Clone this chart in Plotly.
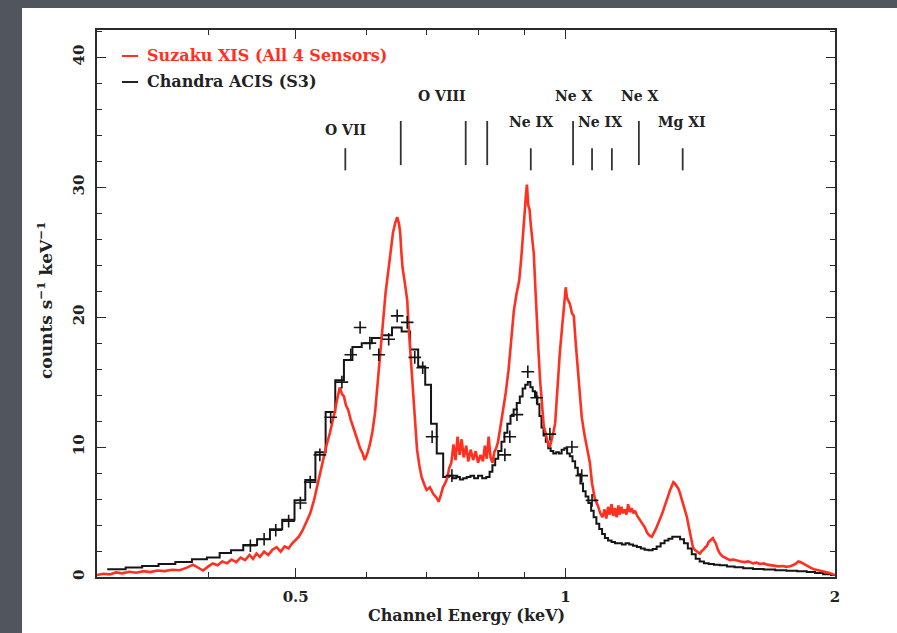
import math
import plotly.graph_objects as go

# Suzaku XIS (all four sensors) spectrum: channel energy (keV) and rate (counts s^-1 keV^-1)
suzaku_energy = [
    0.300, 0.305, 0.310, 0.315, 0.320, 0.326, 0.332, 0.338, 0.344, 0.350,
    0.357, 0.364, 0.371, 0.378, 0.384, 0.389, 0.394, 0.399, 0.404, 0.409,
    0.414, 0.419, 0.424, 0.429, 0.434, 0.439, 0.444, 0.448, 0.452, 0.456,
    0.461, 0.466, 0.471, 0.476, 0.481, 0.486, 0.491, 0.495, 0.499, 0.504,
    0.509, 0.514, 0.519, 0.524, 0.528, 0.532, 0.536, 0.541, 0.546, 0.550,
    0.553, 0.557, 0.560, 0.563, 0.566, 0.569, 0.572, 0.576, 0.580, 0.585,
    0.590, 0.594, 0.597, 0.601, 0.605, 0.609, 0.613, 0.616, 0.619, 0.623,
    0.626, 0.630, 0.635, 0.638, 0.642, 0.646, 0.649, 0.652, 0.654, 0.656,
    0.658, 0.662, 0.666, 0.668, 0.671, 0.674, 0.676, 0.680, 0.683, 0.687,
    0.691, 0.696, 0.700, 0.706, 0.712, 0.718, 0.722, 0.726, 0.730, 0.734,
    0.738, 0.742, 0.746, 0.750, 0.754, 0.758, 0.762, 0.766, 0.770, 0.775,
    0.779, 0.784, 0.789, 0.794, 0.799, 0.804, 0.809, 0.813, 0.817, 0.821,
    0.825, 0.829, 0.833, 0.837, 0.841, 0.846, 0.852, 0.858, 0.864, 0.870,
    0.876, 0.882, 0.888, 0.893, 0.897, 0.901, 0.904, 0.906, 0.909, 0.912,
    0.915, 0.918, 0.922, 0.926, 0.929, 0.933, 0.937, 0.942, 0.946, 0.951,
    0.956, 0.961, 0.966, 0.970, 0.974, 0.978, 0.981, 0.986, 0.991, 0.995,
    0.998, 1.001, 1.004, 1.008, 1.012, 1.017, 1.022, 1.027, 1.033, 1.038,
    1.043, 1.050, 1.057, 1.065, 1.071, 1.079, 1.087, 1.094, 1.100, 1.106,
    1.111, 1.116, 1.121, 1.126, 1.131, 1.136, 1.141, 1.146, 1.150, 1.155,
    1.160, 1.165, 1.170, 1.175, 1.180, 1.186, 1.191, 1.196, 1.203, 1.211,
    1.219, 1.227, 1.234, 1.241, 1.249, 1.256, 1.262, 1.269, 1.275, 1.283,
    1.290, 1.296, 1.302, 1.309, 1.315, 1.320, 1.325, 1.332, 1.337, 1.342,
    1.349, 1.355, 1.361, 1.367, 1.373, 1.378, 1.383, 1.388, 1.394, 1.400,
    1.406, 1.413, 1.420, 1.426, 1.433, 1.439, 1.445, 1.450, 1.455, 1.461,
    1.466, 1.472, 1.480, 1.488, 1.497, 1.505, 1.515, 1.526, 1.540, 1.555,
    1.570, 1.586, 1.600, 1.620, 1.635, 1.649, 1.665, 1.680, 1.695, 1.713,
    1.730, 1.750, 1.765, 1.781, 1.795, 1.810, 1.820, 1.830, 1.845, 1.855,
    1.865, 1.880, 1.895, 1.910, 1.923, 1.940, 1.955, 1.973, 1.987, 2.000,
]
suzaku_rate = [
    0.15, 0.25, 0.20, 0.35, 0.28, 0.40, 0.33, 0.45, 0.38, 0.50,
    0.45, 0.56, 0.52, 0.72, 0.95, 0.75, 0.50, 0.80, 1.05, 0.90,
    1.20, 1.05, 1.35, 1.15, 1.50, 1.30, 1.70, 1.40, 1.80, 1.55,
    1.95, 1.70, 2.10, 2.30, 1.95, 2.35, 2.20, 2.55, 2.80, 3.10,
    3.60, 4.20, 4.90, 5.90, 6.90, 7.90, 9.00, 10.1, 11.1, 12.0,
    12.8, 13.9, 14.6, 14.1, 13.9, 13.2, 12.9, 12.1, 11.4, 10.7,
    9.9, 9.5, 9.0, 9.5, 10.2, 11.2, 12.6, 14.3, 16.2, 18.2,
    20.0, 21.9, 23.8, 25.2, 26.5, 27.3, 27.7, 27.2, 26.5, 25.0,
    23.8, 22.6, 21.3, 19.5, 17.5, 15.5, 13.6, 11.5, 9.8, 8.6,
    7.7, 7.1, 6.7, 6.9, 6.4, 6.1, 5.8, 6.3, 6.9, 7.2,
    7.6, 8.4, 8.8, 10.2, 9.0, 10.8, 9.4, 10.6, 9.2, 10.1,
    8.9, 9.8, 9.0, 9.7, 8.8, 9.4, 8.9, 10.1, 9.1, 10.8,
    9.2, 8.8, 9.6, 9.9, 10.4, 11.5, 12.8, 14.2, 15.9, 18.0,
    20.5, 21.8, 22.8, 24.6, 26.8, 28.2, 29.6, 30.2, 28.6, 28.3,
    27.1, 26.2, 24.9, 22.1, 19.8, 17.5, 15.2, 13.0, 11.6, 11.0,
    10.3, 10.0, 10.6, 11.2, 11.8, 13.6, 15.4, 17.3, 19.0, 20.6,
    21.5, 22.3, 21.5, 21.2, 21.0, 20.3, 20.1, 18.0, 15.9, 14.0,
    12.3, 11.0, 10.0, 8.8, 7.2, 6.0, 5.5, 4.9, 4.6, 5.2,
    4.5, 5.4, 4.8, 5.6, 4.7, 5.3, 4.6, 5.5, 4.8, 5.4,
    4.9, 5.2, 4.8, 5.6, 5.0, 5.3, 4.9, 5.1, 4.7, 4.4,
    4.0, 3.8, 3.4, 3.2, 3.1, 3.4, 3.7, 4.1, 4.4, 4.9,
    5.4, 5.9, 6.2, 6.7, 7.0, 7.3, 7.2, 7.0, 6.8, 6.5,
    6.0, 5.6, 5.0, 4.6, 3.9, 3.3, 2.7, 2.3, 2.1, 2.0,
    1.9, 1.8, 2.0, 2.1, 2.3, 2.4, 2.7, 2.8, 2.9, 3.0,
    2.8, 2.6, 2.1, 1.8, 1.6, 1.5, 1.4, 1.3, 1.35, 1.25,
    1.2, 1.15, 1.2, 1.05, 1.1, 1.0, 1.05, 0.95, 0.9, 0.88,
    0.82, 0.85, 0.78, 0.82, 0.9, 1.05, 1.2, 1.15, 1.0, 0.9,
    0.8, 0.7, 0.6, 0.55, 0.5, 0.42, 0.38, 0.3, 0.22, 0.15,
]

# Chandra ACIS-S3 model, binned (bin centres in keV)
chandra_energy = [
    0.308, 0.316, 0.330, 0.344, 0.359, 0.375, 0.391, 0.405, 0.4175, 0.4294,
    0.4446, 0.461, 0.475, 0.491, 0.506, 0.519, 0.533, 0.547, 0.560, 0.572,
    0.585, 0.600, 0.616, 0.632, 0.649, 0.664, 0.678, 0.692, 0.703, 0.713,
    0.724, 0.737, 0.745, 0.752, 0.759, 0.766, 0.772, 0.780, 0.787, 0.795,
    0.803, 0.812, 0.820, 0.826, 0.832, 0.838, 0.845, 0.852, 0.858, 0.865,
    0.872, 0.879, 0.886, 0.893, 0.899, 0.905, 0.911, 0.917, 0.922, 0.928,
    0.933, 0.938, 0.943, 0.948, 0.954, 0.960, 0.966, 0.973, 0.980, 0.987,
    0.994, 1.001, 1.008, 1.015, 1.022, 1.029, 1.036, 1.043, 1.050, 1.057,
    1.065, 1.072, 1.079, 1.087, 1.095, 1.103, 1.111, 1.121, 1.131, 1.141,
    1.151, 1.162, 1.173, 1.184, 1.196, 1.208, 1.220, 1.232, 1.245, 1.258,
    1.271, 1.284, 1.297, 1.310, 1.323, 1.336, 1.350, 1.363, 1.377, 1.391,
    1.405, 1.420, 1.436, 1.455, 1.475, 1.500, 1.530, 1.560, 1.600, 1.640,
    1.690, 1.740, 1.790, 1.840, 1.880, 1.920, 1.960, 2.000,
]
chandra_rate = [
    0.59, 0.59, 0.74, 0.85, 1.0, 1.15, 1.36, 1.5, 1.85, 2.05,
    2.46, 2.9, 3.67, 4.4, 5.9, 7.46, 9.6, 12.7, 15.15, 16.7,
    17.7, 18.0, 18.4, 18.6, 19.2, 18.9, 17.5, 16.2, 14.8, 11.8,
    9.5, 7.7, 7.8, 7.6, 7.7, 7.5, 7.6, 7.7, 7.8, 7.6,
    7.8, 7.6, 7.7, 8.1, 8.6, 9.1, 9.7, 10.4, 11.1, 11.8,
    12.4, 12.9, 13.4, 13.9, 14.5, 14.8, 15.0, 14.6, 14.3, 13.9,
    13.3, 12.4, 11.5, 10.9, 10.4, 9.9, 9.7, 9.5, 9.6, 9.5,
    9.8, 9.9, 9.5, 9.3, 8.9, 8.4, 7.9, 7.2, 6.6, 6.2,
    5.7, 5.1, 4.6, 4.1, 3.7, 3.3, 3.0, 2.8, 2.7, 2.6,
    2.6, 2.5, 2.6, 2.5, 2.4, 2.3, 2.2, 2.1, 2.05, 2.15,
    2.35, 2.6, 2.8, 2.95, 3.1, 3.1, 2.9, 2.6, 2.2, 1.75,
    1.4, 1.2, 1.05, 1.0, 0.95, 0.9, 0.8, 0.75, 0.68, 0.62,
    0.57, 0.52, 0.48, 0.44, 0.38, 0.30, 0.22, 0.15,
]

# Chandra data points
chandra_pts_energy = [
    0.445, 0.461, 0.475, 0.491, 0.506, 0.519, 0.532, 0.547, 0.563, 0.576,
    0.590, 0.605, 0.619, 0.635, 0.649, 0.666, 0.679, 0.693, 0.710, 0.747,
    0.856, 0.867, 0.883, 0.908, 0.929, 0.961, 1.017, 1.043, 1.071,
]
chandra_pts_rate = [
    2.4, 2.9, 3.6, 4.3, 5.7, 7.3, 9.4, 12.3, 15.0, 17.1,
    19.2, 18.0, 17.1, 18.3, 20.1, 19.6, 16.9, 16.1, 10.8, 7.8,
    9.4, 10.8, 12.5, 15.8, 13.8, 11.0, 10.0, 7.8, 5.9,
]

# Emission-line markers: energy (keV), bottom and top of each marker
line_energy = [0.568, 0.655, 0.774, 0.818, 0.915, 1.020, 1.071, 1.127, 1.208, 1.352]
line_bottom = [31.3, 31.7, 31.7, 31.7, 31.3, 31.7, 31.3, 31.3, 31.7, 31.3]
line_top = [33.0, 35.1, 35.1, 35.1, 33.0, 35.1, 33.0, 33.0, 35.1, 33.0]

# Ion labels
ion_labels = ["O VII", "O VIII", "Ne IX", "Ne X", "Ne IX", "Ne X", "Mg XI"]
ion_label_energy = [0.568, 0.728, 0.915, 1.022, 1.093, 1.211, 1.349]
ion_label_rate = [34.4, 37.0, 35.0, 37.0, 35.0, 37.0, 35.0]

x_tick_vals = [0.5, 1, 2]
x_tick_text = ["0.5", "1", "2"]
x_minor_vals = [0.4, 0.6, 0.7, 0.8, 0.9]
y_tick_vals = [0, 10, 20, 30, 40]

RED = "#ff3020"
INK = "#222222"
AXIS = "#2b2b2b"
FONT = "DejaVu Serif"


def font(size, color=INK):
    return dict(family=FONT, size=size, color=color, weight="bold")


fig = go.Figure()

fig.add_trace(go.Scatter(
    x=chandra_energy, y=chandra_rate, mode="lines",
    line=dict(color="#151515", width=2, shape="hvh"),
    name="Chandra ACIS (S3)",
))
fig.add_trace(go.Scatter(
    x=suzaku_energy, y=suzaku_rate, mode="lines",
    line=dict(color=RED, width=2.6),
    name="Suzaku XIS (All 4 Sensors)",
))
fig.add_trace(go.Scatter(
    x=chandra_pts_energy, y=chandra_pts_rate, mode="markers",
    marker=dict(symbol="cross-thin", size=9, line=dict(color="#151515", width=1.6)),
    name="Chandra data",
))

# vertical line-identification ticks
lx, ly = [], []
for e, b, t in zip(line_energy, line_bottom, line_top):
    lx += [e, e, None]
    ly += [b, t, None]
fig.add_trace(go.Scatter(x=lx, y=ly, mode="lines",
                         line=dict(color="#333333", width=1.8),
                         hoverinfo="skip"))

for lab, e, r in zip(ion_labels, ion_label_energy, ion_label_rate):
    fig.add_annotation(x=math.log10(e), y=r, text=lab, showarrow=False,
                       xref="x", yref="y", xanchor="center", yanchor="middle",
                       font=font(14))

# plot geometry (pixels) used for paper-coordinate placement
L, R, T, B = 97, 835, 30, 577
W, H = R - L, B - T


def px(x):
    return (x - L) / W


def py(y):
    return (B - y) / H


# white page behind the chart
fig.add_shape(type="rect", xref="paper", yref="paper",
              x0=px(22), x1=px(900), y0=py(640), y1=py(8),
              fillcolor="white", line=dict(width=0), layer="below")

# legend entries
legend_items = [("Suzaku XIS (All 4 Sensors)", RED, 56),
                ("Chandra ACIS (S3)", INK, 82)]
for text, col, yy in legend_items:
    fig.add_shape(type="line", xref="paper", yref="paper",
                  x0=px(122), x1=px(138), y0=py(yy), y1=py(yy),
                  line=dict(color=col, width=2))
    fig.add_annotation(x=px(145), y=py(yy), xref="paper", yref="paper",
                       text=text, showarrow=False, xanchor="left",
                       yanchor="middle", font=font(16, col))

# axis titles
fig.add_annotation(x=px(466), y=py(615), xref="paper", yref="paper",
                   text="Channel Energy (keV)", showarrow=False,
                   xanchor="center", yanchor="middle", font=font(16))
fig.add_annotation(x=px(45), y=py(300), xref="paper", yref="paper",
                   text="counts s<sup>\u22121</sup> keV<sup>\u22121</sup>",
                   showarrow=False, textangle=-90,
                   xanchor="center", yanchor="middle", font=font(17))

axis_common = dict(
    showgrid=False, zeroline=False, showline=True, linecolor=AXIS,
    linewidth=1.6, mirror="ticks", ticks="inside", ticklen=9,
    tickwidth=1.4, tickcolor=AXIS, tickfont=font(15),
)

fig.update_xaxes(
    type="log", range=[math.log10(0.3), math.log10(2.0)],
    tickmode="array", tickvals=x_tick_vals, ticktext=x_tick_text,
    minor=dict(tickmode="array", tickvals=x_minor_vals, ticks="inside",
               ticklen=5, tickwidth=1.2, tickcolor=AXIS),
    ticklabelstandoff=5,
    **axis_common,
)
fig.update_yaxes(
    range=[0, 42.1], tickmode="array", tickvals=y_tick_vals,
    tickangle=-90,
    minor=dict(dtick=2, ticks="inside", ticklen=5, tickwidth=1.2,
               tickcolor=AXIS),
    ticklabelstandoff=5,
    **axis_common,
)

fig.update_layout(
    width=897, height=633,
    margin=dict(l=L, r=897 - R, t=T, b=633 - B),
    paper_bgcolor="#50555e", plot_bgcolor="white",
    showlegend=False,
)

fig.write_html("out.html")
